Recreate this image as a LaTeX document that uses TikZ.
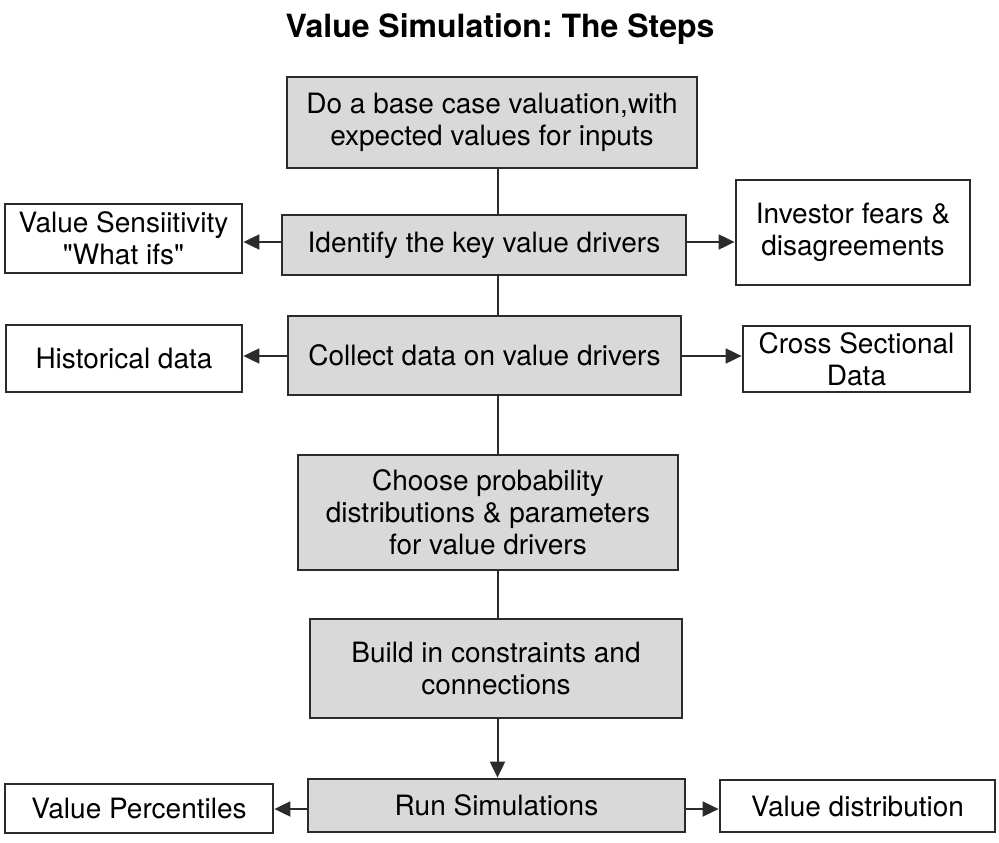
\documentclass[tikz,border=0pt]{standalone}
\usepackage{fontspec}
\setmainfont{TeX Gyre Heros}[Ligatures=TeXOff]
\usetikzlibrary{arrows.meta}
\frenchspacing
\definecolor{boxgray}{HTML}{D9D9D9}
\definecolor{edge}{HTML}{2B2B2B}
\tikzset{
  stepbox/.style={draw=edge, line width=2.8pt, fill=boxgray, inner sep=0pt, align=center,
    font=\fontsize{28}{32}\selectfont},
  sidebox/.style={draw=edge, line width=2.8pt, fill=white, inner sep=0pt, align=center,
    font=\fontsize{28}{32}\selectfont},
  link/.style={draw=edge, line width=2pt},
  arr/.style={draw=edge, line width=2pt, -{Triangle[length=16pt,width=15pt]}},
}
\begin{document}
\begin{tikzpicture}[x=1pt,y=-1pt]
\useasboundingbox (0,0) rectangle (999,843);
\node[anchor=base, font=\fontsize{32}{36}\selectfont\bfseries] (title) at (500,38) {Value Simulation: The Steps};

\node[stepbox, minimum width=410pt, minimum height=91pt] (b1) at (492,122.5) {Do a base case valuation,with\\expected values for inputs};
\node[stepbox, minimum width=404pt, minimum height=60pt] (b2) at (484,245) {Identify the key value drivers};
\node[stepbox, minimum width=393pt, minimum height=79pt] (b3) at (484.5,355.5) {Collect data on value drivers};
\node[stepbox, minimum width=380pt, minimum height=115pt] (b4) at (488,512.5) {Choose probability\\distributions \& parameters\\for value drivers};
\node[stepbox, minimum width=372pt, minimum height=99pt] (b5) at (496,668.5) {Build in constraints and\\connections};
\node[stepbox, minimum width=377pt, minimum height=53pt] (b6) at (496.5,805.5) {Run Simulations};

\node[sidebox, minimum width=237pt, minimum height=69pt] (s1) at (123.5,238.5) {Value Sensiitivity\\"What ifs"};
\node[sidebox, minimum width=234pt, minimum height=105pt] (s2) at (853,232.5) {Investor fears \&\\disagreements};
\node[sidebox, minimum width=236pt, minimum height=67pt] (s3) at (124,358.5) {Historical data};
\node[sidebox, minimum width=227pt, minimum height=66pt] (s4) at (856.5,359) {Cross Sectional\\Data};
\node[sidebox, minimum width=268pt, minimum height=49pt] (s5) at (139,808.5) {Value Percentiles};
\node[sidebox, minimum width=275pt, minimum height=52pt] (s6) at (857.5,806) {Value distribution};

\coordinate (v) at (497.5,0);
\draw[link] (b1.south -| v) -- (b2.north -| v);
\draw[link] (b2.south -| v) -- (b3.north -| v);
\draw[link] (b3.south -| v) -- (b4.north -| v);
\draw[link] (b4.south -| v) -- (b5.north -| v);
\draw[arr] (b5.south -| v) -- (b6.north -| v);

\coordinate (y2) at (0,242);
\draw[arr] (b2.west |- y2) -- (s1.east |- y2);
\draw[arr] (b2.east |- y2) -- (s2.west |- y2);
\coordinate (y3) at (0,356);
\draw[arr] (b3.west |- y3) -- (s3.east |- y3);
\draw[arr] (b3.east |- y3) -- (s4.west |- y3);
\coordinate (y6) at (0,809);
\draw[arr] (b6.west |- y6) -- (s5.east |- y6);
\draw[arr] (b6.east |- y6) -- (s6.west |- y6);
\end{tikzpicture}
\end{document}
